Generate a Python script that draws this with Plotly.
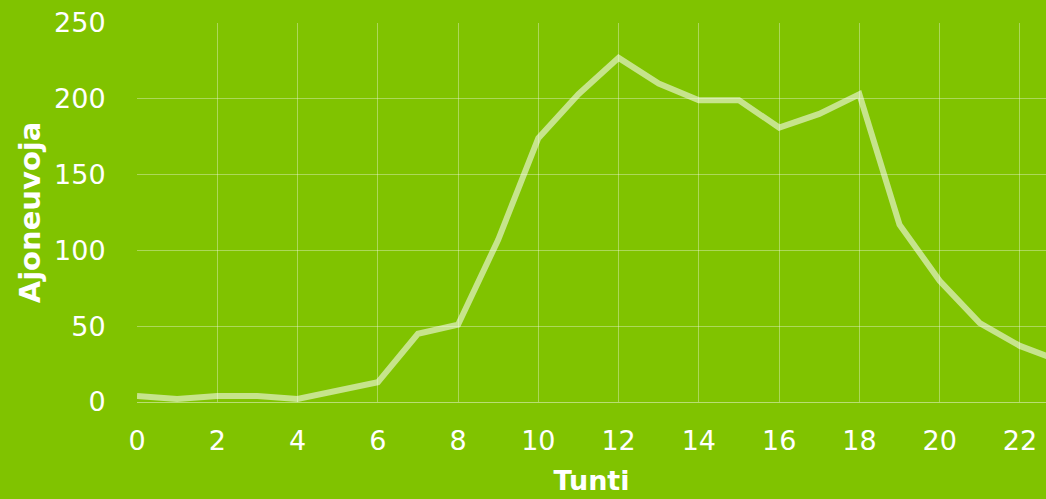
import plotly.graph_objects as go

hours = list(range(24))
vehicles = [4, 2, 4, 4, 2, 7, 13, 45, 51, 107, 174, 203, 227, 210, 199, 199, 181, 190, 203, 117, 80, 52, 37, 27]

x_tick_vals = list(range(0, 24, 2))
y_tick_vals = [0, 50, 100, 150, 200, 250]

BG = "#80c300"
GRID = "rgba(255,255,255,0.35)"
FONT = "DejaVu Sans"

fig = go.Figure()
fig.add_trace(go.Scatter(
    x=hours, y=vehicles, mode="lines",
    line=dict(color="rgba(255,255,255,0.55)", width=6),
    hoverinfo="x+y", showlegend=False,
))

fig.update_layout(
    width=1046, height=499,
    paper_bgcolor=BG, plot_bgcolor=BG,
    margin=dict(l=137, r=0, t=23, b=97),
    font=dict(family=FONT, color="white", size=27),
    xaxis=dict(
        range=[0, 22.65], tickvals=x_tick_vals,
        showgrid=True, gridcolor=GRID, gridwidth=1,
        zeroline=False, showline=False,
        ticks="outside", ticklen=15, tickcolor=BG,
        tickfont=dict(family=FONT, size=27, color="white"),
        title=dict(text="<b>Tunti</b>", font=dict(family=FONT, size=27, color="white"), standoff=15),
    ),
    yaxis=dict(
        range=[0, 250], tickvals=y_tick_vals,
        showgrid=True, gridcolor=GRID, gridwidth=1,
        zeroline=True, zerolinecolor="rgba(255,255,255,0.45)", zerolinewidth=1,
        showline=False,
        ticks="outside", ticklen=25, tickcolor=BG,
        tickfont=dict(family=FONT, size=27, color="white"),
        title=dict(text="<b>Ajoneuvoja</b>", font=dict(family=FONT, size=29, color="white"), standoff=4),
    ),
)

fig.write_html(
    "out.html",
    config={"displayModeBar": False},
    post_script="document.body.style.margin='0';document.body.style.overflow='hidden';document.body.style.background='#80c300';",
)
